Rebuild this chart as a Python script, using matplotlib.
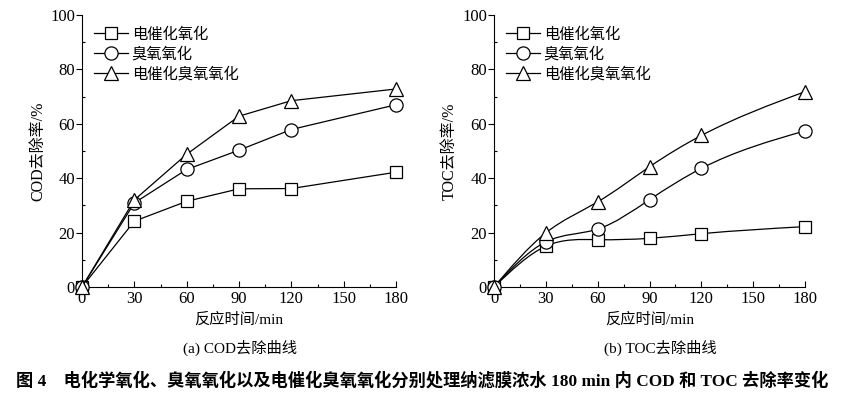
import matplotlib
matplotlib.use("Agg")
import matplotlib.pyplot as plt
from matplotlib.path import Path
from matplotlib.patches import PathPatch
from matplotlib.ticker import MultipleLocator
import numpy as np

plt.rcParams['font.family'] = ['Liberation Serif', 'Noto Sans CJK SC']
plt.rcParams['axes.unicode_minus'] = False

time = [0, 30, 60, 90, 120, 180]
labels = ['电催化氧化', '臭氧氧化', '电催化臭氧氧化']
cod_elec = [0, 24.2, 31.5, 36.1, 36.2, 42.2]
cod_ozone = [0, 30.9, 43.2, 50.3, 57.9, 67.0]
cod_combo = [0, 32.0, 48.8, 62.8, 68.5, 72.8]
toc_elec = [0, 15.0, 17.4, 17.9, 19.6, 22.2]
toc_ozone = [0, 16.6, 21.3, 32.1, 43.6, 57.4]
toc_combo = [0, 19.9, 31.3, 44.2, 55.7, 71.8]
xticks = [0, 30, 60, 90, 120, 150, 180]
yticks = [0, 20, 40, 60, 80, 100]

markers = ['s', 'o', '^']
msizes = [8.5, 9.5, 10.5]


def spline_path(x, y):
    """Natural cubic spline through the data points, as Bezier segments."""
    x = np.asarray(x, float)
    y = np.asarray(y, float)
    n = len(x)
    h = np.diff(x)
    A = np.zeros((n, n))
    b = np.zeros(n)
    A[0, 0] = 1
    A[-1, -1] = 1
    for i in range(1, n - 1):
        A[i, i - 1] = h[i - 1]
        A[i, i] = 2 * (h[i - 1] + h[i])
        A[i, i + 1] = h[i]
        b[i] = 6 * ((y[i + 1] - y[i]) / h[i] - (y[i] - y[i - 1]) / h[i - 1])
    M = np.linalg.solve(A, b)
    verts = [(x[0], y[0])]
    codes = [Path.MOVETO]
    for i in range(n - 1):
        s = (y[i + 1] - y[i]) / h[i]
        m0 = s - h[i] * (2 * M[i] + M[i + 1]) / 6
        m1 = s + h[i] * (M[i] + 2 * M[i + 1]) / 6
        verts += [(x[i] + h[i] / 3, y[i] + m0 * h[i] / 3),
                  (x[i + 1] - h[i] / 3, y[i + 1] - m1 * h[i] / 3),
                  (x[i + 1], y[i + 1])]
        codes += [Path.CURVE4] * 3
    return Path(verts, codes)


fig = plt.figure(figsize=(8.65, 3.94), dpi=100)
ax1 = fig.add_axes([82 / 865, 1 - 287 / 394, (396 - 82) / 865, (287 - 15) / 394])
ax2 = fig.add_axes([494 / 865, 1 - 287 / 394, (805 - 494) / 865, (287 - 15) / 394])


def style(ax, ylabel):
    ax.set_xlim(0, 180)
    ax.set_ylim(0, 100)
    ax.spines['top'].set_visible(False)
    ax.spines['right'].set_visible(False)
    ax.set_xticks(xticks)
    ax.set_yticks(yticks)
    ax.xaxis.set_minor_locator(MultipleLocator(15))
    ax.yaxis.set_minor_locator(MultipleLocator(10))
    ax.tick_params(axis='x', which='major', direction='in', length=4, width=0.8, labelsize=12, pad=3)
    ax.tick_params(axis='x', which='minor', direction='in', length=2.5, width=0.8)
    ax.tick_params(axis='y', which='major', direction='out', length=4, width=0.8, labelsize=12, pad=1)
    ax.tick_params(axis='y', which='minor', direction='in', length=2.5, width=0.8)
    ax.set_xlabel('反应时间/min', fontsize=11, labelpad=4)
    ax.set_ylabel(ylabel, fontsize=11.5, labelpad=3)


series1 = [cod_elec, cod_ozone, cod_combo]
for ys, mk, ms, lab in zip(series1, markers, msizes, labels):
    ax1.plot(time, ys, color='black', lw=0.9, marker=mk, ms=ms, mfc='white',
             mec='black', mew=0.9, label=lab, clip_on=False, zorder=3)

series2 = [toc_elec, toc_ozone, toc_combo]
for ys, mk, ms, lab in zip(series2, markers, msizes, labels):
    ax2.add_patch(PathPatch(spline_path(time, ys), fill=False, edgecolor='black', lw=0.9, zorder=2))
    ax2.plot(time, ys, color='black', lw=0, marker=mk, ms=ms, mfc='white',
             mec='black', mew=0.9, clip_on=False, zorder=3)
    ax2.plot([], [], color='black', lw=0.9, marker=mk, ms=ms, mfc='white',
             mec='black', mew=0.9, label=lab)

style(ax1, 'COD去除率/%')
style(ax2, 'TOC去除率/%')

for ax in (ax1, ax2):
    ax.legend(loc='upper left', bbox_to_anchor=(0.0, 1.0), frameon=False, fontsize=11,
              handlelength=2.2, handletextpad=0.25, labelspacing=0.35, borderaxespad=0.4)

fig.text(240 / 865, 1 - 348 / 394, '(a) COD去除曲线', ha='center', va='center', fontsize=11)
fig.text(660 / 865, 1 - 348 / 394, '(b) TOC去除曲线', ha='center', va='center', fontsize=11)
fig.text(422 / 865, 1 - 381 / 394,
         '图 4　电化学氧化、臭氧氧化以及电催化臭氧氧化分别处理纳滤膜浓水 180 min 内 COD 和 TOC 去除率变化',
         ha='center', va='center', fontsize=12.4, fontweight='bold')

fig.savefig('out.png', dpi=100)
